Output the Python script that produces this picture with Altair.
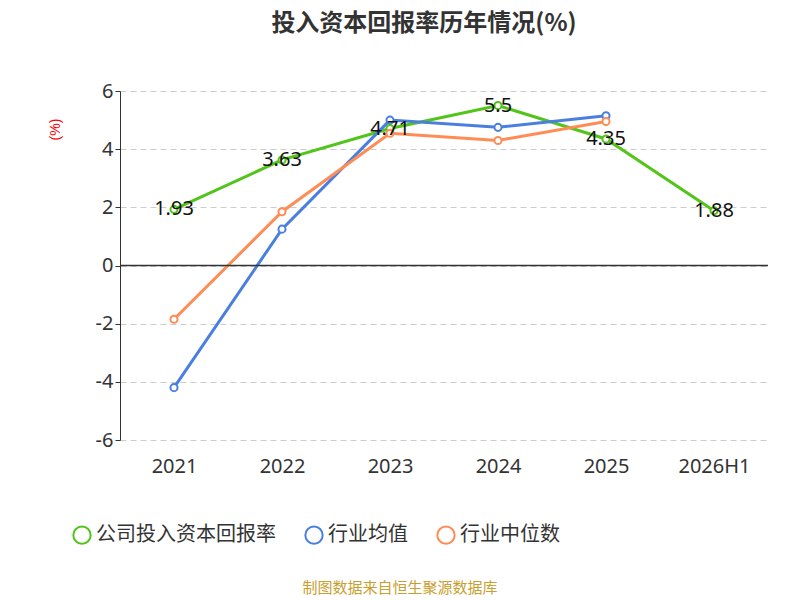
import altair as alt
import pandas as pd

years = ["2021", "2022", "2023", "2024", "2025", "2026H1"]
company = [1.93, 3.63, 4.71, 5.5, 4.35, 1.88]
industry_avg = [-4.2, 1.25, 5.0, 4.75, 5.15, None]
industry_median = [-1.85, 1.85, 4.55, 4.3, 4.95, None]
series_names = ["公司投入资本回报率", "行业均值", "行业中位数"]
series_colors = ["#52c41a", "#4a7fe0", "#ff8c55"]

rows = []
for name, vals in zip(series_names, [company, industry_avg, industry_median]):
    for y, v in zip(years, vals):
        if v is not None:
            rows.append({"year": y, "value": v, "series": name})
data = pd.DataFrame(rows)
labels = pd.DataFrame({"year": years, "value": company})

FONT = "Noto Sans CJK SC"
x = alt.X("year:N", sort=years, title=None,
          scale=alt.Scale(paddingInner=0, paddingOuter=0),
          axis=alt.Axis(labelAngle=0, labelFontSize=20, labelColor="#333", labelPadding=16,
                        domain=False, ticks=False, grid=False, labelFont="Noto Sans"))
y = alt.Y("value:Q", title="(%)",
          scale=alt.Scale(domain=[-6, 6], nice=False),
          axis=alt.Axis(values=[-6, -4, -2, 0, 2, 4, 6], labelFontSize=20, labelColor="#333",
                        labelExpr="replace(datum.label, '−', '-')",
                        titleColor="red", titleFontSize=14, titleFontWeight="normal",
                        titleX=-58, titleY=38, domainColor="#333", tickColor="#333",
                        gridDash=[6, 4], gridColor="#ccc", labelFont="Noto Sans"))
color = alt.Color("series:N", sort=series_names,
                  scale=alt.Scale(domain=series_names, range=series_colors),
                  legend=alt.Legend(title=None, orient="none", legendX=-48, legendY=434,
                                    direction="horizontal", labelFontSize=20, labelColor="#333",
                                    labelFont=FONT, labelLimit=300, symbolType="circle",
                                    symbolSize=300, symbolFillColor="white",
                                    symbolStrokeWidth=2, columnPadding=25))

lines = alt.Chart(data).mark_line(strokeWidth=3).encode(x=x, y=y, color=color)
points = alt.Chart(data).mark_point(size=50, filled=True, fill="white", strokeWidth=2, opacity=1).encode(
    x=x, y=y, stroke=alt.Stroke("series:N", scale=alt.Scale(domain=series_names, range=series_colors), legend=None))
zero = alt.Chart(pd.DataFrame({"value": [0]})).mark_rule(color="#333", strokeWidth=1.5).encode(y="value:Q")
text = alt.Chart(labels).mark_text(fontSize=20, color="#111", font="Noto Sans").encode(x=x, y=y, text="value:Q")
source = alt.Chart(pd.DataFrame({"t": ["制图数据来自恒生聚源数据库"]})).mark_text(
    fontSize=15, color="#c8a030", font=FONT).encode(x=alt.value(280), y=alt.value(497), text="t:N")

chart = (lines + points + zero + text + source).properties(
    width=648, height=349,
    autosize=alt.AutoSizeParams(type="none"),
    padding={"left": 112, "top": 83, "right": 24, "bottom": 160},
    title=alt.Title("投入资本回报率历年情况(%)", fontSize=24, font=FONT, color="#333",
                    offset=45, anchor="middle", dx=-20),
).configure_view(stroke=None)

chart.save("out.html", embed_options={"renderer": "svg", "actions": False})
